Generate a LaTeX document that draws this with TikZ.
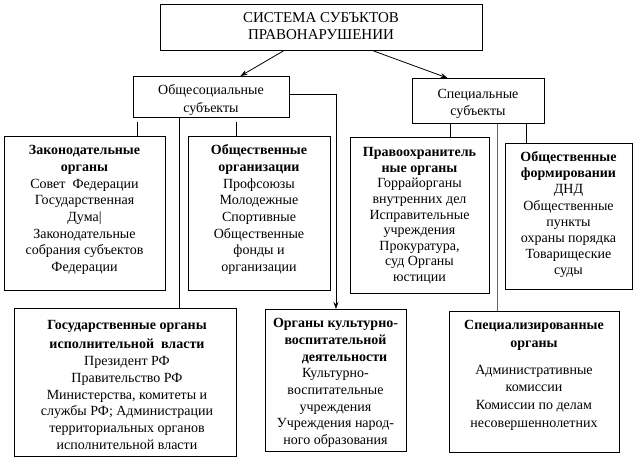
\documentclass[tikz,border=0pt]{standalone}
\usepackage{fontspec}
\setmainfont{Liberation Serif}
\newfontfamily\tnr{Liberation Serif}
\usetikzlibrary{arrows.meta}
\begin{document}
\begin{tikzpicture}[x=1pt,y=1pt,
  box/.style={draw, line width=0.9pt, rectangle, anchor=north west, inner sep=0pt},
  txt/.style={anchor=north, align=center, inner sep=0pt, font=\tnr\fontsize{14}{17}\selectfont},
  conn/.style={line width=0.8pt},
  arr/.style={line width=0.8pt, -{Stealth[length=7pt,width=5pt]}}]
\useasboundingbox (0,0) rectangle (636,-462);
\newcommand{\fl}{\rule{0pt}{10pt}}
% boxes
\node[box, minimum width=322pt, minimum height=46pt] (top) at (160,-4) {};
\node[box, minimum width=156pt, minimum height=41pt] (obsh) at (133,-76) {};
\node[box, minimum width=132pt, minimum height=45pt] (spec) at (412,-78) {};
\node[box, minimum width=161pt, minimum height=154pt] (zak) at (4,-136) {};
\node[box, minimum width=142pt, minimum height=154pt] (obor) at (188,-136) {};
\node[box, minimum width=139pt, minimum height=156pt] (prav) at (350,-137) {};
\node[box, minimum width=127pt, minimum height=146pt] (ofor) at (505,-143) {};
\node[box, minimum width=222pt, minimum height=148pt] (gos) at (14,-308) {};
\node[box, minimum width=141pt, minimum height=142pt] (kult) at (265,-309) {};
\node[box, minimum width=170pt, minimum height=141pt] (spez) at (449,-311) {};
% texts
\node[txt, font=\tnr\fontsize{15}{17}\selectfont] (topt) at (321,-12.5) {\fl СИСТЕМА СУБЪКТОВ\\ПРАВОНАРУШЕНИИ};
\node[txt, font=\tnr\fontsize{14}{18}\selectfont] (obsht) at (211,-84.5) {\fl Общесоциальные\\субъекты};
\node[txt, font=\tnr\fontsize{14}{16.5}\selectfont] (spect) at (478,-88.5) {\fl Специальные\\субъекты};
\node[txt, font=\tnr\fontsize{14}{16.7}\selectfont] (zakt) at (84.5,-144.5) {\fl\textbf{Законодательные}\\\textbf{органы}\\Совет\ \ Федерации\\Государственная\\Дума|\\Законодательные\\собрания субъектов\\Федерации};
\node[txt, font=\tnr\fontsize{14}{16.7}\selectfont] (obort) at (259,-144.5) {\fl\textbf{Общественные}\\\textbf{организации}\\Профсоюзы\\Молодежные\\Спортивные\\Общественные\\фонды и\\организации};
\node[txt, font=\tnr\fontsize{14}{15.6}\selectfont] (pravt) at (419.5,-146.5) {\fl\textbf{Правоохранитель}\\\textbf{ные органы}\\Горрайорганы\\внутренних дел\\Исправительные\\учреждения\\Прокуратура,\\суд Органы\\юстиции};
\node[txt, font=\tnr\fontsize{14}{16.1}\selectfont] (fort) at (568.5,-151.5) {\fl\textbf{Общественные}\\\textbf{формировании}\\ДНД\\Общественные\\пункты\\охраны порядка\\Товарищеские\\суды};
\node[txt, font=\tnr\fontsize{14}{16.8}\selectfont] (gost) at (127,-319.5) {\fl\textbf{Государственные органы}\\[2.2pt]\textbf{исполнительной\ \ власти}\\Президент РФ\\Правительство РФ\\Министерства, комитеты и\\службы РФ; Администрации\\территориальных органов\\исполнительной власти};
\node[txt, font=\tnr\fontsize{14}{16.7}\selectfont] (kultt) at (335.5,-317.5) {\fl\textbf{Органы культурно-}\\\textbf{воспитательной}\\\hspace*{18pt}\textbf{деятельности}\\Культурно-\\воспитательные\\учреждения\\Учреждения народ-\\ного образования};
\node[txt, font=\tnr\fontsize{14}{17.7}\selectfont] (spezt) at (534,-319.5) {\fl\textbf{Специализированные}\\\textbf{органы}\\[9pt]Административные\\комиссии\\Комиссии по делам\\несовершеннолетних};
% connectors
\draw[arr] ([xshift=-38pt]top.south) -- ([xshift=29pt]obsh.north);
\draw[arr] ([xshift=52pt]top.south) -- ([xshift=-31pt]spec.north);
\draw[arr] ([yshift=3pt]obsh.east) -| (kult.north);
\draw[conn] ([xshift=52.5pt]zak.north) -- ++(0,14);
\draw[conn] ([xshift=-23pt]obor.north) -- ++(0,14);
\draw[conn] ([xshift=-32pt]obsh.south) -- ([xshift=-32pt]obsh.south |- gos.north);
\draw[conn] ([xshift=-28pt]spec.south) -- ([xshift=-28pt]spec.south |- prav.north);
\draw[conn] ([xshift=48pt]spec.south) -- ([xshift=48pt]spec.south |- ofor.north);
\draw[conn, gray!80!black] ([xshift=19pt]spec.south) -- ([xshift=19pt]spec.south |- spez.north);
\end{tikzpicture}
\end{document}
